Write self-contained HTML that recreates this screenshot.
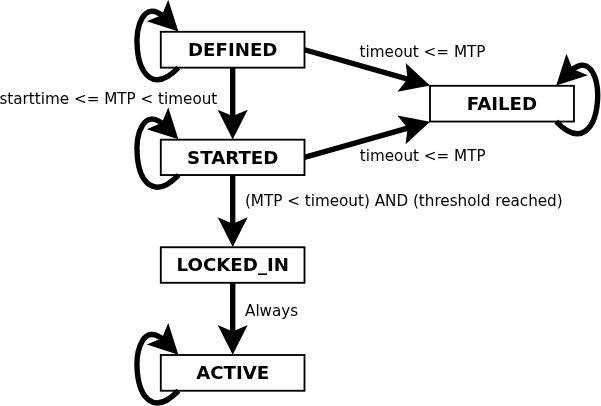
<!DOCTYPE html>
<html lang="en">
<head>
<meta charset="utf-8">
<title>State diagram</title>
<style>
html,body{margin:0;padding:0;background:#fff;}
body{width:601px;height:406px;overflow:hidden;}
svg{display:block;will-change:transform;}
</style>
</head>
<body>
<svg width="601" height="406" viewBox="0 0 601 406">
<rect width="601" height="406" fill="#fff"/>
<g fill="#fff" stroke="#000" stroke-width="1.85">
<rect x="160.80" y="31.80" width="143.70" height="35.85"/>
<rect x="160.80" y="139.68" width="143.70" height="35.37"/>
<rect x="160.80" y="247.25" width="143.70" height="35.55"/>
<rect x="160.80" y="355.00" width="143.70" height="35.75"/>
<rect x="430.00" y="85.80" width="143.95" height="35.75"/>
</g>
<g fill="none" stroke="#000" stroke-width="5.4">
<line x1="232.70" y1="67.65" x2="232.70" y2="118.38"/>
<line x1="232.70" y1="175.05" x2="232.70" y2="225.95"/>
<line x1="232.70" y1="282.80" x2="232.70" y2="333.70"/>
<line x1="304.50" y1="49.73" x2="409.52" y2="79.66"/>
<line x1="304.50" y1="157.37" x2="409.50" y2="127.65"/>
<path d="M178.40,67.65 C127.61,119.95 124.74,-16.40 163.34,16.39"/>
<path d="M178.40,175.05 C127.61,227.35 124.74,91.48 163.34,124.27"/>
<path d="M178.40,390.75 C127.61,443.05 124.74,306.80 163.34,339.59"/>
<path d="M556.25,121.55 C607.04,173.85 609.91,37.60 571.31,70.39"/>
</g>
<g fill="#000">
<polygon points="232.70,139.38 247.70,109.78 232.70,116.08 217.70,109.78"/>
<polygon points="232.70,246.95 247.70,217.35 232.70,223.65 217.70,217.35"/>
<polygon points="232.70,354.70 247.70,325.10 232.70,331.40 217.70,325.10"/>
<polygon points="430.00,85.50 405.65,62.96 407.59,79.11 397.42,91.81"/>
<polygon points="430.00,121.85 397.43,115.48 407.58,128.19 405.60,144.34"/>
<polygon points="178.40,31.45 168.25,-0.26 161.92,14.97 146.69,21.30"/>
<polygon points="178.40,139.33 168.25,107.62 161.92,122.85 146.69,129.18"/>
<polygon points="178.40,354.65 168.25,322.94 161.92,338.17 146.69,344.50"/>
<polygon points="556.25,85.45 587.96,75.30 572.73,68.97 566.40,53.74"/>
</g>
<g font-family="'DejaVu Sans', 'Liberation Sans', sans-serif" font-weight="bold" font-size="18.2" text-anchor="middle" fill="#000">
<text x="232.75" y="56.00">DEFINED</text>
<text x="232.75" y="163.88">STARTED</text>
<text x="232.75" y="271.45">LOCKED_IN</text>
<text x="232.75" y="379.20">ACTIVE</text>
<text x="501.98" y="110.10">FAILED</text>
</g>
<g font-family="'DejaVu Sans', 'Liberation Sans', sans-serif" font-size="15.2" fill="#000">
<text x="-0.60" y="103.60">starttime &lt;= MTP &lt; timeout</text>
<text x="359.60" y="57.10">timeout &lt;= MTP</text>
<text x="359.80" y="160.50">timeout &lt;= MTP</text>
<text x="244.90" y="206.00">(MTP &lt; timeout) AND (threshold reached)</text>
<text x="245.00" y="315.50">Always</text>
</g>
</svg>
</body>
</html>
